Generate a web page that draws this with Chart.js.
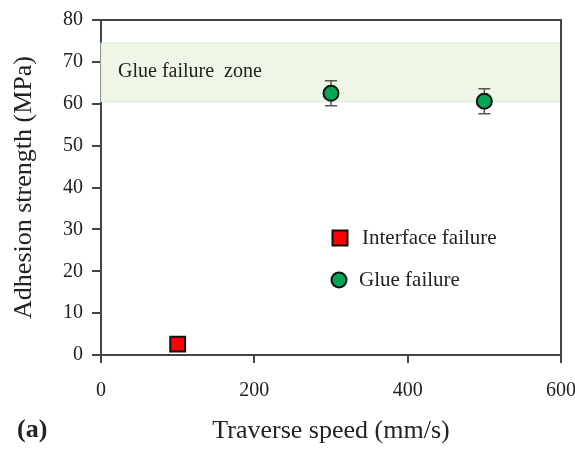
<!DOCTYPE html>
<html>
<head>
<meta charset="utf-8">
<script src="https://cdn.jsdelivr.net/npm/chart.js@4.4.1/dist/chart.umd.min.js"></script>
<style>
  html, body { margin: 0; padding: 0; background: #fff; }
  #wrap { width: 575px; height: 449px; position: relative; }
</style>
</head>
<body>
<div id="wrap"><canvas id="adhesion"></canvas></div>
<script>
// data
const interfaceSpeed = [100];
const interfaceStrength = [2.6];
const glueSpeed = [300, 500];
const glueStrength = [62.5, 60.6];
const glueError = [3.0, 3.0];
const glueZone = [60.5, 74.5];
const zoneLabel = 'Glue failure  zone';
const seriesNames = ['Interface failure', 'Glue failure'];

const serif = '"Liberation Serif", "Times New Roman", serif';
const ink = '#222';
const axisColor = '#444';

// shaded band + frame + error bars + legend, all placed with the chart scales
const figureExtras = {
  id: 'figureExtras',
  beforeDatasetsDraw(chart) {
    const {ctx, chartArea: a, scales: {x, y}} = chart;
    const yTop = y.getPixelForValue(glueZone[1]);
    const yBot = y.getPixelForValue(glueZone[0]);
    ctx.save();
    ctx.fillStyle = '#eef6e8';
    ctx.fillRect(a.left, yTop, a.right - a.left, yBot - yTop);
    ctx.strokeStyle = '#dde9d5';
    ctx.lineWidth = 1;
    ctx.strokeRect(a.left, yTop, a.right - a.left, yBot - yTop);
    ctx.fillStyle = ink;
    ctx.font = '20px ' + serif;
    ctx.textBaseline = 'middle';
    ctx.fillText(zoneLabel, a.left + 17, (yTop + yBot) / 2 - 1);

    // frame top and right
    ctx.strokeStyle = axisColor;
    ctx.lineWidth = 2;
    ctx.beginPath();
    ctx.moveTo(a.left, a.top);
    ctx.lineTo(a.right, a.top);
    ctx.lineTo(a.right, a.bottom);
    ctx.stroke();

    // error bars
    ctx.strokeStyle = '#555';
    ctx.lineWidth = 1.5;
    glueSpeed.forEach((s, i) => {
      const px = x.getPixelForValue(s);
      const hi = y.getPixelForValue(glueStrength[i] + glueError[i]);
      const lo = y.getPixelForValue(glueStrength[i] - glueError[i]);
      ctx.beginPath();
      ctx.moveTo(px, hi); ctx.lineTo(px, lo);
      ctx.moveTo(px - 6, hi); ctx.lineTo(px + 6, hi);
      ctx.moveTo(px - 6, lo); ctx.lineTo(px + 6, lo);
      ctx.stroke();
    });
    ctx.restore();
  },
  afterDraw(chart) {
    const {ctx, chartArea: a} = chart;
    ctx.save();
    ctx.font = '21px ' + serif;
    ctx.textBaseline = 'middle';
    ctx.lineWidth = 2;
    ctx.strokeStyle = '#111';
    // legend
    const lx = a.left + 239, ly1 = a.top + 218, ly2 = a.top + 260;
    ctx.fillStyle = '#ff0000';
    ctx.fillRect(lx - 7.5, ly1 - 7.5, 15, 15);
    ctx.strokeRect(lx - 7.5, ly1 - 7.5, 15, 15);
    ctx.fillStyle = ink;
    ctx.fillText(seriesNames[0], lx + 22, ly1);
    ctx.beginPath();
    ctx.arc(lx - 1, ly2, 7.5, 0, Math.PI * 2);
    ctx.fillStyle = '#00a651';
    ctx.fill();
    ctx.stroke();
    ctx.fillStyle = ink;
    ctx.fillText(seriesNames[1], lx + 19, ly2);
    // panel tag
    ctx.font = 'bold 26px ' + serif;
    ctx.fillText('(a)', 17, 430);
    ctx.restore();
  }
};

const canvas = document.getElementById('adhesion');
new Chart(canvas, {
  type: 'scatter',
  data: {
    datasets: [
      {
        label: seriesNames[0],
        data: interfaceSpeed.map((s, i) => ({x: s, y: interfaceStrength[i]})),
        pointStyle: 'rect',
        pointRadius: 10.5,
        backgroundColor: '#ff0000',
        borderColor: '#111',
        borderWidth: 2
      },
      {
        label: seriesNames[1],
        data: glueSpeed.map((s, i) => ({x: s, y: glueStrength[i]})),
        pointStyle: 'circle',
        pointRadius: 7.5,
        backgroundColor: '#00a651',
        borderColor: '#111',
        borderWidth: 2
      }
    ]
  },
  options: {
    responsive: true,
    maintainAspectRatio: false,
    animation: false,
    layout: { padding: { left: 0, right: 14, top: 20, bottom: 0 } },
    plugins: { legend: { display: false }, tooltip: { enabled: false } },
    scales: {
      x: {
        type: 'linear',
        min: 0, max: 600,
        afterFit: (s) => { s.height = 94; s.paddingRight = 0; s.paddingLeft = 0; },
        ticks: { stepSize: 200, color: ink, padding: 16, font: { family: serif, size: 20 } },
        grid: { drawOnChartArea: false, drawTicks: true, tickLength: 8, color: axisColor, lineWidth: 2 },
        border: { color: axisColor, width: 2 },
        title: { display: true, text: 'Traverse speed (mm/s)', color: ink, padding: { top: 0, bottom: 2 }, font: { family: serif, size: 26 } }
      },
      y: {
        min: 0, max: 80,
        afterFit: (s) => { s.width = 101; s.paddingTop = 0; s.paddingBottom = 0; },
        ticks: { stepSize: 10, color: ink, padding: 9, font: { family: serif, size: 20 } },
        grid: { drawOnChartArea: false, drawTicks: true, tickLength: 9, color: axisColor, lineWidth: 2 },
        border: { color: axisColor, width: 2 },
        title: { display: true, text: 'Adhesion strength (MPa)', color: ink, padding: { top: 9, bottom: 0 }, font: { family: serif, size: 26 } }
      }
    }
  },
  plugins: [figureExtras]
});
</script>
</body>
</html>
